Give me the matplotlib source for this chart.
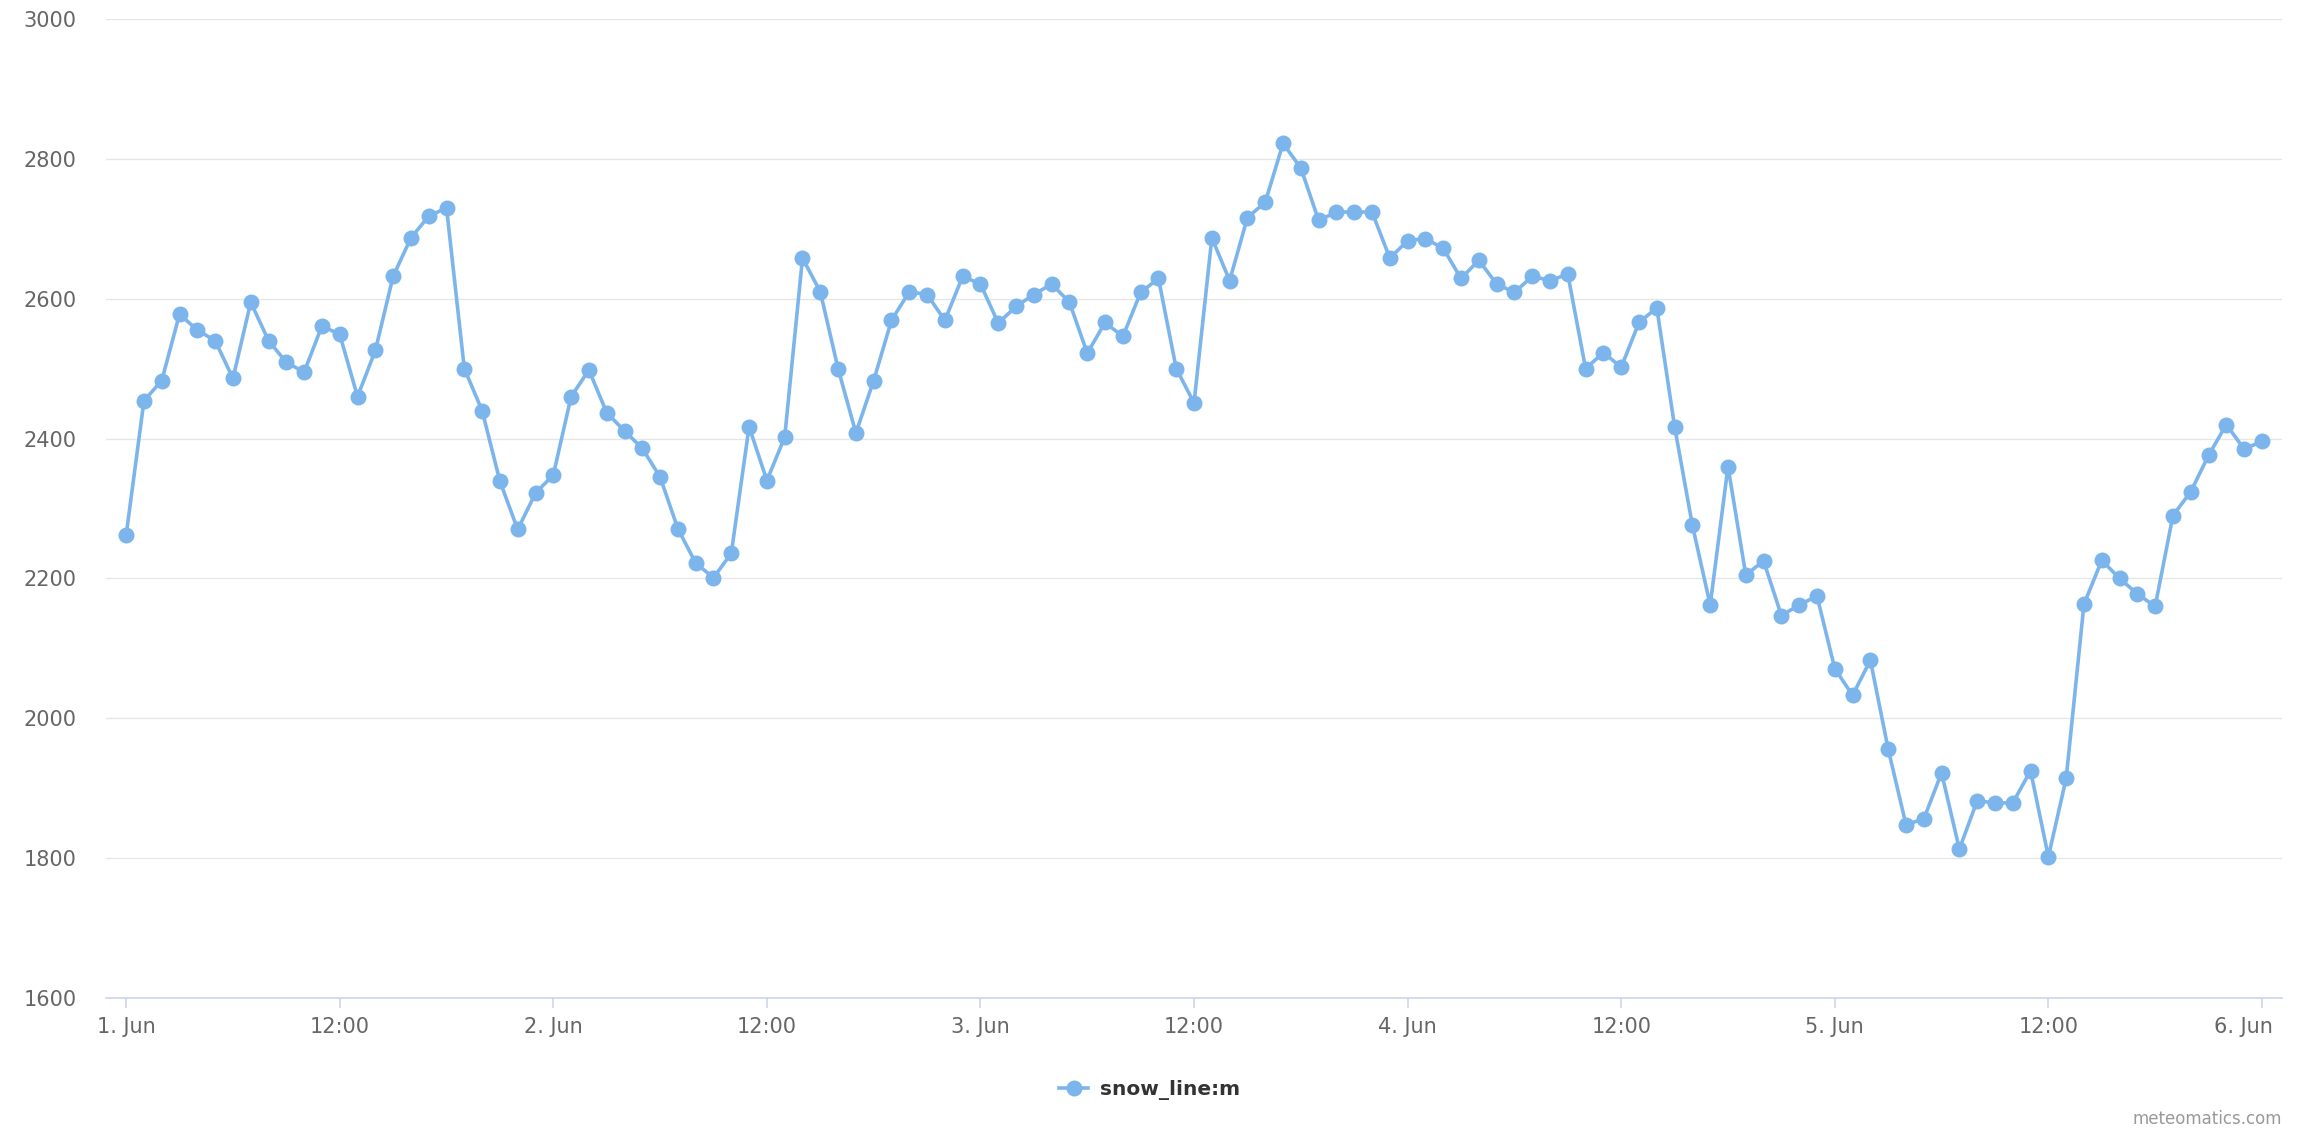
import pandas as pd
import matplotlib
matplotlib.use('Agg')
import matplotlib.pyplot as plt
import matplotlib.transforms as mtransforms
from matplotlib.lines import Line2D

# hourly snow line height (m), 1 Jun 00:00 .. 6 Jun 00:00
snow_line = [
    2262, 2454, 2483, 2578, 2555, 2540, 2486, 2595, 2540, 2509, 2495, 2561,
    2549, 2460, 2526, 2632, 2687, 2718, 2730, 2500, 2440, 2339, 2270, 2322,
    2348, 2460, 2498, 2437, 2411, 2386, 2345, 2271, 2222, 2201, 2236, 2417,
    2340, 2402, 2658, 2610, 2500, 2408, 2483, 2569, 2610, 2606, 2569, 2632,
    2621, 2565, 2589, 2606, 2621, 2595, 2522, 2566, 2546, 2609, 2629, 2500,
    2451, 2687, 2626, 2716, 2738, 2822, 2787, 2712, 2724, 2724, 2724, 2658,
    2683, 2686, 2672, 2629, 2655, 2621, 2609, 2632, 2626, 2635, 2500, 2523,
    2502, 2566, 2587, 2417, 2276, 2162, 2360, 2205, 2225, 2147, 2162, 2175,
    2071, 2033, 2083, 1956, 1848, 1856, 1922, 1813, 1882, 1879, 1879, 1925,
    1802, 1914, 2163, 2226, 2200, 2178, 2160, 2290, 2324, 2376, 2420, 2385,
    2396,
]
times = pd.date_range('2024-06-01', periods=len(snow_line), freq='h')

tick_labels = ['1. Jun', '12:00', '2. Jun', '12:00', '3. Jun', '12:00',
               '4. Jun', '12:00', '5. Jun', '12:00', '6. Jun']
tick_times = pd.date_range('2024-06-01', periods=len(tick_labels), freq='12h')
y_ticks = [1600, 1800, 2000, 2200, 2400, 2600, 2800, 3000]

series_name = 'snow_line:m'
color = '#7cb5ec'

plt.rcParams['font.family'] = ['DejaVu Sans']

fig = plt.figure(figsize=(23.04, 11.44), dpi=100)
ax = fig.add_axes([0.046, 0.1276, 0.9445, 0.8558])

ax.plot(times, snow_line, color=color, lw=2.6, marker='o', ms=11.5,
        markeredgewidth=0, zorder=3, clip_on=False)

ax.set_ylim(1600, 3000)
ax.set_yticks(y_ticks)
ax.set_xlim(times[0] - pd.Timedelta(minutes=68), times[-1] + pd.Timedelta(minutes=68))
ax.set_xticks(tick_times)
ax.set_xticklabels(tick_labels)

ax.grid(axis='y', color='#e6e6e6', lw=1.0)
ax.set_axisbelow(True)
for s in ['left', 'top', 'right']:
    ax.spines[s].set_visible(False)
ax.spines['bottom'].set_color('#ccd6eb')
ax.spines['bottom'].set_linewidth(1.2)

ax.tick_params(axis='y', length=0, pad=21, labelsize=15, labelcolor='#666666')
ax.tick_params(axis='x', length=7, width=1.2, color='#ccd6eb', pad=6.5,
               labelsize=15, labelcolor='#666666')

# last label pulled inside the plot, like the original
last = ax.get_xticklabels()[-1]
last.set_transform(last.get_transform() +
                   mtransforms.ScaledTranslation(-0.19, 0, fig.dpi_scale_trans))

handle = Line2D([], [], color=color, lw=2.6, marker='o', ms=11.5, markeredgewidth=0)
leg = fig.legend([handle], [series_name], loc='center', bbox_to_anchor=(0.499, 0.047),
                 frameon=False, handlelength=1.45, handletextpad=0.6,
                 prop={'size': 14.5, 'weight': 'bold'})
for t in leg.get_texts():
    t.set_color('#333333')

fig.text(0.9905, 0.014, 'meteomatics.com', ha='right', va='bottom',
         fontsize=12, color='#999999')

fig.savefig('out.png', dpi=100)
